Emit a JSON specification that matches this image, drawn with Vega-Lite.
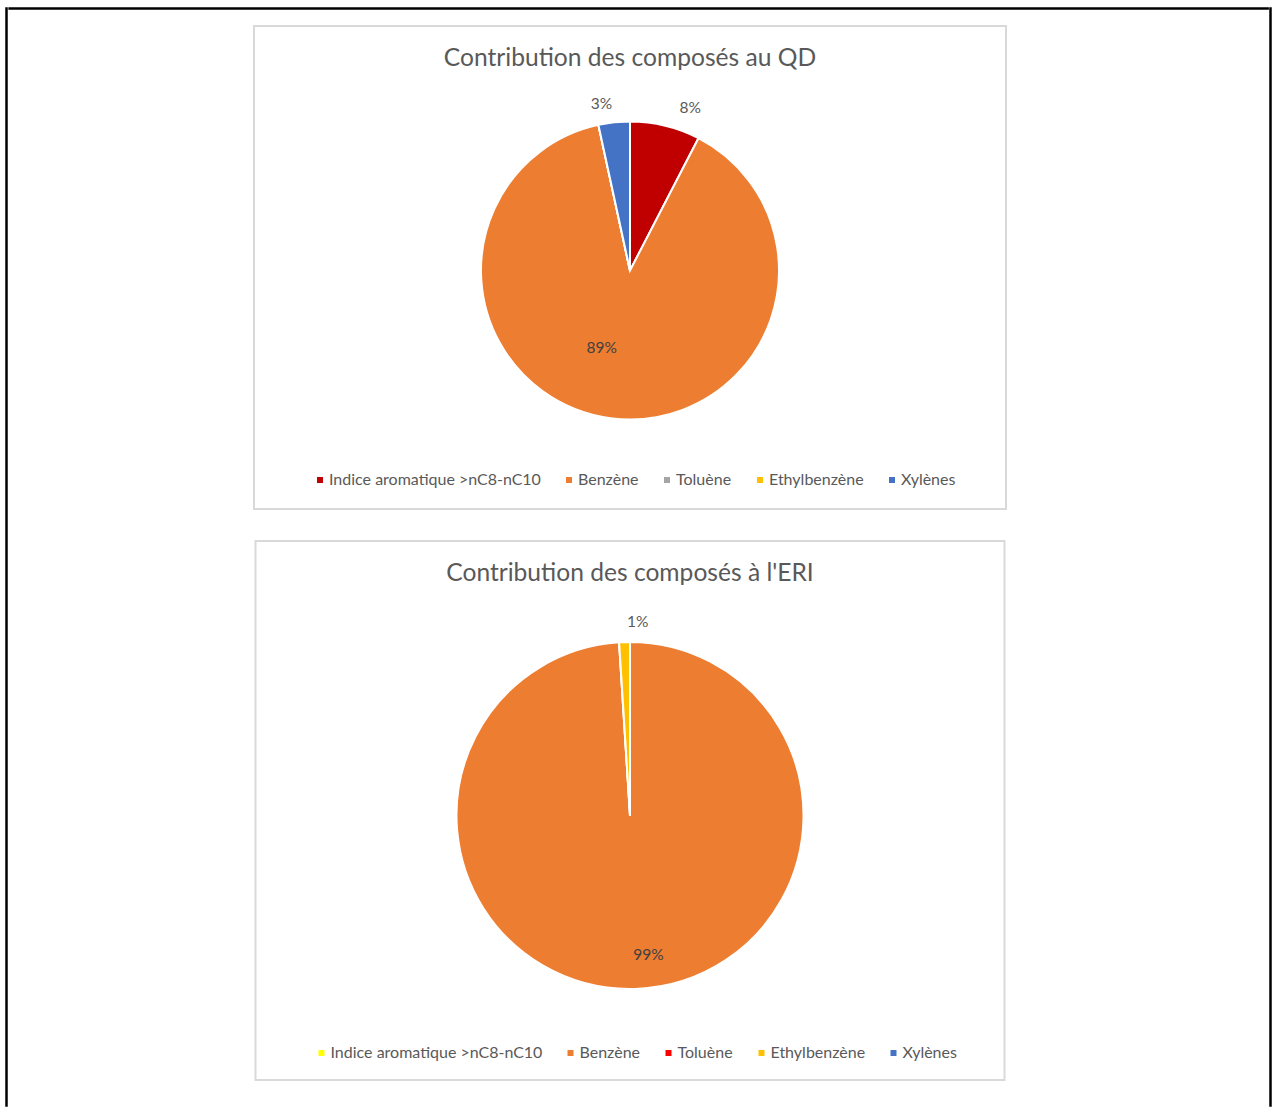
{
  "$schema": "https://vega.github.io/schema/vega-lite/v6.json",
  "padding": {"left": 5, "top": 7, "right": 0, "bottom": 0},
  "background": "white",
  "config": {"font": "Lato", "view": {"stroke": null}},
  "datasets": {
    "qd": [
      {"c": "Indice aromatique >nC8-nC10", "v": 0.076, "i": 1},
      {"c": "Benzène", "v": 0.89, "i": 2},
      {"c": "Toluène", "v": 0, "i": 3},
      {"c": "Ethylbenzène", "v": 0, "i": 4},
      {"c": "Xylènes", "v": 0.034, "i": 5}
    ],
    "eri": [
      {"c": "Indice aromatique >nC8-nC10", "v": 0, "i": 1},
      {"c": "Benzène", "v": 0.99, "i": 2},
      {"c": "Toluène", "v": 0, "i": 3},
      {"c": "Ethylbenzène", "v": 0.01, "i": 4},
      {"c": "Xylènes", "v": 0, "i": 5}
    ],
    "blank": [{"k": 1}]
  },
  "spacing": 0,
  "hconcat": [
    {
      "data": {"name": "blank"},
      "width": 1, "height": 1098,
      "view": {"stroke": "black", "strokeWidth": 1.5},
      "mark": {"type": "rect", "opacity": 0},
      "encoding": {}
    },
    {
      "spacing": 15,
      "center": true,
      "vconcat": [
        {
          "data": {"name": "blank"},
          "width": 1259, "height": 1,
          "view": {"stroke": "black", "strokeWidth": 1.5},
          "mark": {"type": "rect", "opacity": 0},
          "encoding": {}
        },
        {
          "spacing": 0,
          "hconcat": [
            {
              "spacing": 30,
              "center": true,
              "resolve": {"scale": {"color": "independent", "theta": "independent"}, "legend": {"color": "independent"}},
              "vconcat": [
                {
                  "width": 752, "height": 483,
                  "view": {"stroke": "#D9D9D9", "strokeWidth": 2},
                  "title": {"text": "Contribution des composés au QD", "font": "Lato", "fontSize": 24.6, "fontWeight": "normal", "color": "#595959", "anchor": "middle", "baseline": "alphabetic", "offset": -65},
                  "data": {"name": "qd"},
                  "encoding": {
                    "theta": {"field": "v", "type": "quantitative", "stack": true},
                    "order": {"field": "i", "type": "quantitative"}
                  },
                  "layer": [
                    {
                      "mark": {"type": "arc", "outerRadius": 149, "stroke": "white", "strokeWidth": 2, "yOffset": 3},
                      "encoding": {
                        "color": {
                          "field": "c", "type": "nominal",
                          "scale": {"domain": ["Indice aromatique >nC8-nC10", "Benzène", "Toluène", "Ethylbenzène", "Xylènes"], "range": ["#C00000", "#ED7D31", "#A5A5A5", "#FFC000", "#4472C4"]},
                          "legend": {"orient": "none", "legendX": 58, "legendY": 446, "direction": "horizontal", "columns": 5, "title": null, "symbolType": "square", "symbolSize": 36, "symbolStrokeWidth": 0, "labelFont": "Lato", "labelFontSize": 16, "labelColor": "#595959", "labelOffset": 1, "labelLimit": 400, "columnPadding": 20, "padding": 0}
                        }
                      }
                    },
                    {
                      "mark": {"type": "text", "radius": 78, "fontSize": 15.5, "dx": -18, "yOffset": 3},
                      "encoding": {
                        "detail": {"field": "c", "type": "nominal"},
                        "color": {"value": "#404040"},
                        "text": {"condition": {"test": "datum.v > 0.5", "field": "v", "type": "quantitative", "format": ".0%"}, "value": ""}
                      }
                    },
                    {
                      "mark": {"type": "text", "radius": 167, "fontSize": 15.5, "align": "left", "dx": 10, "yOffset": 3},
                      "encoding": {
                        "detail": {"field": "c", "type": "nominal"},
                        "color": {"value": "#595959"},
                        "text": {"condition": {"test": "datum.c === 'Indice aromatique >nC8-nC10'", "field": "v", "type": "quantitative", "format": ".0%"}, "value": ""}
                      }
                    },
                    {
                      "mark": {"type": "text", "radius": 167, "fontSize": 15.5, "align": "right", "yOffset": 3},
                      "encoding": {
                        "detail": {"field": "c", "type": "nominal"},
                        "color": {"value": "#595959"},
                        "text": {"condition": {"test": "datum.c === 'Xylènes'", "field": "v", "type": "quantitative", "format": ".0%"}, "value": ""}
                      }
                    }
                  ]
                },
                {
                  "width": 749, "height": 539,
                  "view": {"stroke": "#D9D9D9", "strokeWidth": 2},
                  "title": {"text": "Contribution des composés à l'ERI", "font": "Lato", "fontSize": 24.6, "fontWeight": "normal", "color": "#595959", "anchor": "middle", "baseline": "alphabetic", "offset": -65},
                  "data": {"name": "eri"},
                  "encoding": {
                    "theta": {"field": "v", "type": "quantitative", "stack": true},
                    "order": {"field": "i", "type": "quantitative"}
                  },
                  "layer": [
                    {
                      "mark": {"type": "arc", "outerRadius": 173.5, "stroke": "white", "strokeWidth": 2, "yOffset": 5},
                      "encoding": {
                        "color": {
                          "field": "c", "type": "nominal",
                          "scale": {"domain": ["Indice aromatique >nC8-nC10", "Benzène", "Toluène", "Ethylbenzène", "Xylènes"], "range": ["#FFFF00", "#ED7D31", "#FF0000", "#FFC000", "#4472C4"]},
                          "legend": {"orient": "none", "legendX": 58, "legendY": 504, "direction": "horizontal", "columns": 5, "title": null, "symbolType": "square", "symbolSize": 36, "symbolStrokeWidth": 0, "labelFont": "Lato", "labelFontSize": 16, "labelColor": "#595959", "labelOffset": 1, "labelLimit": 400, "columnPadding": 20, "padding": 0}
                        }
                      }
                    },
                    {
                      "mark": {"type": "text", "radius": 140, "fontSize": 15.5, "dx": 14, "yOffset": 5},
                      "encoding": {
                        "detail": {"field": "c", "type": "nominal"},
                        "color": {"value": "#404040"},
                        "text": {"condition": {"test": "datum.v > 0.5", "field": "v", "type": "quantitative", "format": ".0%"}, "value": ""}
                      }
                    },
                    {
                      "mark": {"type": "text", "radius": 194, "fontSize": 15.5, "align": "left", "dx": 3, "yOffset": 5},
                      "encoding": {
                        "detail": {"field": "c", "type": "nominal"},
                        "color": {"value": "#595959"},
                        "text": {"condition": {"test": "datum.c === 'Ethylbenzène'", "field": "v", "type": "quantitative", "format": ".0%"}, "value": ""}
                      }
                    }
                  ]
                }
              ]
            },
            {
              "data": {"name": "blank"},
              "width": 17, "height": 1,
              "mark": {"type": "rect", "opacity": 0},
              "encoding": {}
            }
          ]
        }
      ]
    },
    {
      "data": {"name": "blank"},
      "width": 1, "height": 1098,
      "view": {"stroke": "black", "strokeWidth": 1.5},
      "mark": {"type": "rect", "opacity": 0},
      "encoding": {}
    }
  ]
}
